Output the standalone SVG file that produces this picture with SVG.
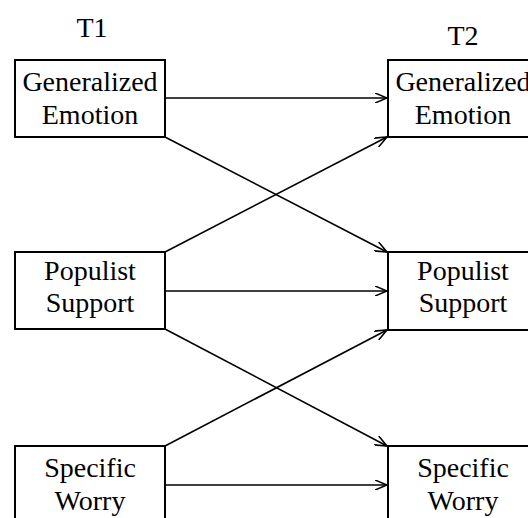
<svg xmlns="http://www.w3.org/2000/svg" width="528" height="518" viewBox="0 0 528 518">
<style>
.box{fill:#fff;stroke:#000;stroke-width:2}
.t{font-family:"Liberation Serif","Times New Roman",serif;font-size:28px;fill:#000;text-anchor:middle}
.c{stroke:#000;stroke-width:1.6;fill:none;marker-end:url(#ah)}
</style>
<defs>
<marker id="ah" viewBox="0 0 12 10" refX="12" refY="5" markerWidth="12" markerHeight="10" markerUnits="userSpaceOnUse" orient="auto">
<polyline points="0,0 12,5 0,10" fill="none" stroke="#000" stroke-width="1.6"/>
</marker>
</defs>
<rect width="528" height="518" fill="#fff"/>
<text class="t" x="92" y="37">T1</text>
<text class="t" x="463" y="45">T2</text>
<g id="connectors">
<line class="c" x1="165" y1="98" x2="387" y2="98"/>
<line class="c" x1="165" y1="137" x2="387" y2="252"/>
<line class="c" x1="165" y1="252" x2="387" y2="137"/>
<line class="c" x1="165" y1="291" x2="387" y2="291"/>
<line class="c" x1="165" y1="329" x2="387" y2="446"/>
<line class="c" x1="165" y1="446" x2="387" y2="330"/>
<line class="c" x1="165" y1="485" x2="387" y2="485"/>
</g>
<g id="t1-emotion"><rect class="box" x="15" y="60" width="150" height="77"/><text class="t" x="90" y="91">Generalized</text><text class="t" x="90" y="124">Emotion</text></g>
<g id="t1-populist"><rect class="box" x="15" y="252" width="150" height="77"/><text class="t" x="90" y="280">Populist</text><text class="t" x="90" y="312">Support</text></g>
<g id="t1-worry"><rect class="box" x="15" y="446" width="150" height="77"/><text class="t" x="90" y="477">Specific</text><text class="t" x="90" y="510">Worry</text></g>
<g id="t2-emotion"><rect class="box" x="388" y="60" width="150" height="77"/><text class="t" x="463" y="91">Generalized</text><text class="t" x="463" y="124">Emotion</text></g>
<g id="t2-populist"><rect class="box" x="388" y="252" width="150" height="78"/><text class="t" x="463" y="280">Populist</text><text class="t" x="463" y="312">Support</text></g>
<g id="t2-worry"><rect class="box" x="388" y="446" width="150" height="77"/><text class="t" x="463" y="477">Specific</text><text class="t" x="463" y="510">Worry</text></g>
</svg>
